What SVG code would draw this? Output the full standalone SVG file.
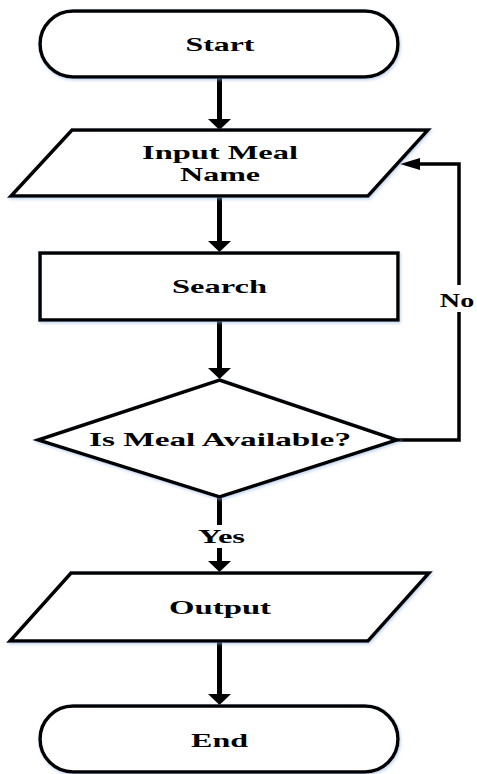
<svg xmlns="http://www.w3.org/2000/svg" width="477" height="774" viewBox="0 0 477 774">
<style>
.shape{fill:#fff;stroke:#000;stroke-width:3.5;stroke-linejoin:miter;filter:url(#glow)}
.lbl{font-family:"Liberation Serif","Times New Roman",serif;font-weight:bold;font-size:19px;fill:#000;text-anchor:middle}
.flow{fill:none;stroke:#000;stroke-width:5}
.loop{fill:none;stroke:#000;stroke-width:3.5}
</style>
<defs>
<filter id="glow" x="-10%" y="-20%" width="120%" height="140%">
<feDropShadow dx="1" dy="1.5" stdDeviation="1.5" flood-color="#8fb0e0" flood-opacity="0.55"/>
</filter>
<marker id="ah" viewBox="0 0 11 23" refX="0" refY="11.5" markerWidth="11" markerHeight="23" markerUnits="userSpaceOnUse" orient="auto">
<path d="M0,0 L11,11.5 L0,23 z" fill="#000"/>
</marker>
<marker id="ahs" viewBox="0 0 20 12" refX="0" refY="6" markerWidth="20" markerHeight="12" markerUnits="userSpaceOnUse" orient="auto">
<path d="M0,0 L20,6 L0,12 z" fill="#000"/>
</marker>
</defs>
<g id="connectors">
<line class="flow" x1="219.5" y1="78" x2="219.5" y2="119" marker-end="url(#ah)"/>
<line class="flow" x1="219.5" y1="196" x2="219.5" y2="241" marker-end="url(#ah)"/>
<line class="flow" x1="219.5" y1="321" x2="219.5" y2="368" marker-end="url(#ah)"/>
<line class="flow" x1="219.5" y1="498" x2="219.5" y2="525"/>
<line class="flow" x1="219.5" y1="548" x2="219.5" y2="561" marker-end="url(#ah)"/>
<line class="flow" x1="219.5" y1="642" x2="219.5" y2="694" marker-end="url(#ah)"/>
<polyline class="loop" points="397,440 459,440 459,312"/>
<polyline class="loop" points="459,285 459,164 420,164" marker-end="url(#ahs)"/>
<text class="lbl" transform="translate(221.5,543) scale(1.6,1)" textLength="29.4" lengthAdjust="spacingAndGlyphs">Yes</text>
<text class="lbl" transform="translate(457,307) scale(1.6,1)" textLength="21.5" lengthAdjust="spacingAndGlyphs">No</text>
</g>
<g id="start">
<rect class="shape" x="40" y="11" width="358" height="66" rx="33" ry="33"/>
<text class="lbl" transform="translate(220,51) scale(1.6,1)" textLength="43.1" lengthAdjust="spacingAndGlyphs">Start</text>
</g>
<g id="input">
<polygon class="shape" points="72,130 428,130 368,196 11,196"/>
<text class="lbl" transform="translate(220,159) scale(1.6,1)" textLength="97.5" lengthAdjust="spacingAndGlyphs">Input Meal</text>
<text class="lbl" transform="translate(220,181) scale(1.6,1)" textLength="50" lengthAdjust="spacingAndGlyphs">Name</text>
</g>
<g id="search">
<rect class="shape" x="40" y="253" width="358" height="67"/>
<text class="lbl" transform="translate(219.5,293) scale(1.6,1)" textLength="59.4" lengthAdjust="spacingAndGlyphs">Search</text>
</g>
<g id="decision">
<polygon class="shape" points="219.5,380 397,440 219.5,497 38,440"/>
<text class="lbl" transform="translate(220,446) scale(1.6,1)" textLength="163.8" lengthAdjust="spacingAndGlyphs">Is Meal Available?</text>
</g>
<g id="output">
<polygon class="shape" points="71,573 429,573 368,641 10,641"/>
<text class="lbl" transform="translate(220,614) scale(1.6,1)" textLength="63.8" lengthAdjust="spacingAndGlyphs">Output</text>
</g>
<g id="end">
<rect class="shape" x="40" y="706" width="358" height="66" rx="33" ry="33"/>
<text class="lbl" transform="translate(219.5,747) scale(1.6,1)" textLength="35.6" lengthAdjust="spacingAndGlyphs">End</text>
</g>
</svg>
